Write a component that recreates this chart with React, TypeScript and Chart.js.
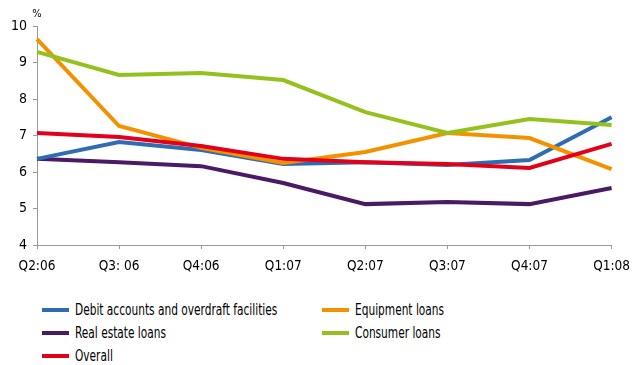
import React, { useEffect, useRef } from "react";
import { Chart, registerables } from "chart.js";

Chart.register(...registerables);

const categories = ["Q2:06", "Q3: 06", "Q4:06", "Q1:07", "Q2:07", "Q3:07", "Q4:07", "Q1:08"];
const debitAccounts = [6.36, 6.82, 6.6, 6.22, 6.27, 6.19, 6.33, 7.5];
const equipmentLoans = [9.64, 7.26, 6.66, 6.25, 6.55, 7.07, 6.93, 6.08];
const consumerLoans = [9.29, 8.66, 8.71, 8.52, 7.64, 7.07, 7.45, 7.29];
const overall = [7.07, 6.96, 6.71, 6.36, 6.27, 6.22, 6.11, 6.77];
const realEstateLoans = [6.36, 6.27, 6.16, 5.7, 5.12, 5.18, 5.12, 5.56];
const yTicks = [4, 5, 6, 7, 8, 9, 10];

const FONT = "'DejaVu Sans Condensed', 'DejaVu Sans', sans-serif";

const series = [
  { label: "Debit accounts and overdraft facilities", data: debitAccounts, color: "#2f6db3" },
  { label: "Equipment loans", data: equipmentLoans, color: "#f39200" },
  { label: "Real estate loans", data: realEstateLoans, color: "#4a1a64" },
  { label: "Consumer loans", data: consumerLoans, color: "#95c11f" },
  { label: "Overall", data: overall, color: "#e3001b" },
];

const drawOrder = [2, 0, 1, 4, 3];

export default function App() {
  const ref = useRef<HTMLCanvasElement>(null);
  useEffect(() => {
    document.body.style.margin = "0";
    const pctPlugin = {
      id: "pct",
      afterDraw(chart: any) {
        const { ctx, chartArea } = chart;
        ctx.save();
        ctx.fillStyle = "#000";
        ctx.font = `11px ${FONT}`;
        ctx.textAlign = "center";
        ctx.textBaseline = "middle";
        ctx.fillText("%", chartArea.left, 14);
        ctx.restore();
      },
    };
    const chart = new Chart(ref.current!, {
      type: "line",
      data: {
        labels: categories,
        datasets: drawOrder.map((i, k) => ({
          label: series[i].label,
          data: series[i].data,
          borderColor: series[i].color,
          backgroundColor: series[i].color,
          borderWidth: 4,
          pointRadius: 0,
          tension: 0,
          order: 5 - k,
        })),
      },
      options: {
        animation: false,
        responsive: false,
        maintainAspectRatio: false,
        layout: { padding: { left: 0, right: 4.5, top: 26, bottom: 0 } },
        plugins: { legend: { display: false }, tooltip: { enabled: false } },
        scales: {
          x: {
            offset: false,
            grid: { drawOnChartArea: false, drawTicks: true, tickLength: 4, color: "#999" },
            border: { color: "#999", width: 1 },
            ticks: { color: "#000", font: { family: FONT, size: 13.5 }, padding: 9, maxRotation: 0, autoSkip: false },
            afterFit(scale: any) { scale.height = 45; },
          },
          y: {
            min: 4,
            max: 10,
            afterBuildTicks(scale: any) { scale.ticks = yTicks.map((v) => ({ value: v })); },
            grid: { drawOnChartArea: false, drawTicks: true, tickLength: 4, color: "#999" },
            border: { color: "#999", width: 1 },
            ticks: { color: "#000", font: { family: FONT, size: 14 }, padding: 6 },
            afterFit(scale: any) { scale.width = 37; },
          },
        },
      },
      plugins: [pctPlugin],
    });
    return () => chart.destroy();
  }, []);

  const legendItem = (i: number, x: number, y: number) => (
    <div key={i} style={{ position: "absolute", left: x, top: y - 10, height: 20, display: "flex", alignItems: "center", whiteSpace: "nowrap" }}>
      <div style={{ width: 27, height: 4, background: series[i].color, marginRight: 6, flex: "none" }} />
      <span style={{ fontFamily: FONT, fontSize: 15, color: "#000", display: "inline-block", transform: "scaleX(0.785)", transformOrigin: "left center" }}>{series[i].label}</span>
    </div>
  );

  return (
    <div style={{ position: "relative", width: 639, height: 365 }}>
      <canvas ref={ref} width={639} height={290} style={{ position: "absolute", left: 0, top: 0 }} />
      {legendItem(0, 42, 310)}
      {legendItem(1, 322, 310)}
      {legendItem(2, 42, 333)}
      {legendItem(3, 322, 333)}
      {legendItem(4, 42, 356)}
    </div>
  );
}
